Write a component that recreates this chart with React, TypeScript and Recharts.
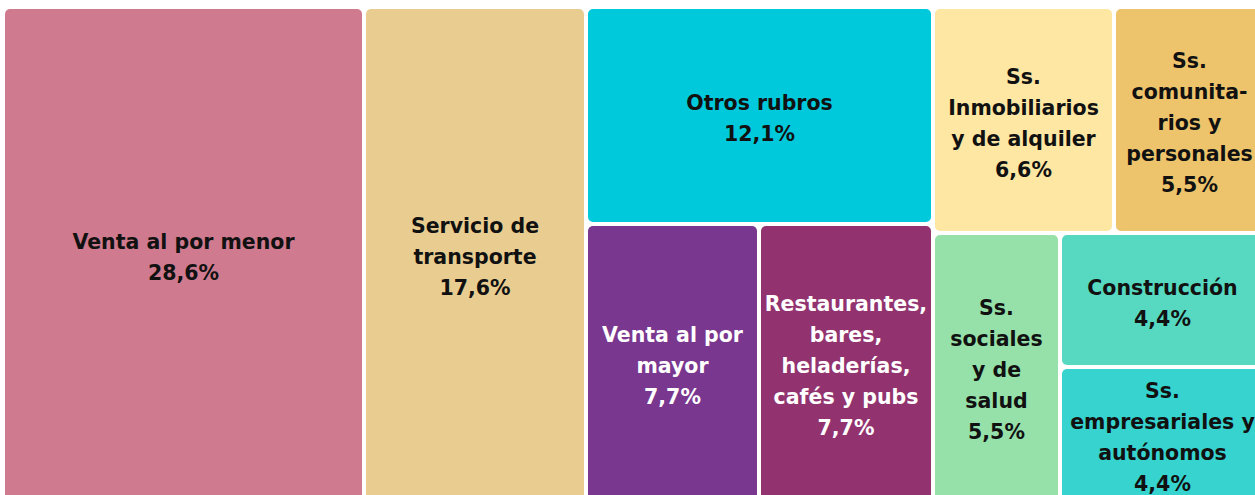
import { Treemap } from 'recharts'

// sectors and their share of the total (%)
const sectors = [
  'Venta al por menor',
  'Servicio de transporte',
  'Otros rubros',
  'Venta al por mayor',
  'Restaurantes, bares, heladerías, cafés y pubs',
  'Ss. Inmobiliarios y de alquiler',
  'Ss. comunitarios y personales',
  'Ss. sociales y de salud',
  'Construcción',
  'Ss. empresariales y autónomos',
]

const shares = [28.6, 17.6, 12.1, 7.7, 7.7, 6.6, 5.5, 5.5, 4.4, 4.4]

// label text as it is broken in the tiles
const labelLines = [
  ['Venta al por menor'],
  ['Servicio de', 'transporte'],
  ['Otros rubros'],
  ['Venta al por', 'mayor'],
  ['Restaurantes,', 'bares,', 'heladerías,', 'cafés y pubs'],
  ['Ss.', 'Inmobiliarios', 'y de alquiler'],
  ['Ss.', 'comunita-', 'rios y', 'personales'],
  ['Ss.', 'sociales', 'y de', 'salud'],
  ['Construcción'],
  ['Ss.', 'empresariales y', 'autónomos'],
]

const palette = [
  '#CF7A8E',
  '#E9CD90',
  '#00C9DC',
  '#7A378F',
  '#923370',
  '#FDE7A3',
  '#EDC46B',
  '#95E1A9',
  '#57D9C1',
  '#36D3CF',
]

const textColors = [
  '#111111',
  '#111111',
  '#111111',
  '#ffffff',
  '#ffffff',
  '#111111',
  '#111111',
  '#111111',
  '#111111',
  '#111111',
]

const leaf = (i: number) => ({ name: sectors[i], value: shares[i], idx: i })

// grouping so the squarify layout gives the same blocks as the original
const treeData = [
  leaf(0),
  leaf(1),
  { name: 'grupo 1', children: [leaf(2), leaf(3), leaf(4)] },
  {
    name: 'grupo 2',
    children: [leaf(5), leaf(6), leaf(7), { name: 'grupo 3', children: [leaf(8), leaf(9)] }],
  },
]

const GAP = 4
const LINE_H = 31

const fmtPct = (v: number) => v.toFixed(1).replace('.', ',') + '%'

const renderTile = (props: any) => {
  const { x, y, width, height, children, idx } = props
  if ((children && children.length) || idx === undefined) return <g />
  const w = width - GAP
  const h = height - GAP
  const lines = [...labelLines[idx], fmtPct(shares[idx])]
  const cx = x + w / 2
  const cy = y + h / 2
  const first = cy - ((lines.length - 1) * LINE_H) / 2 + 10
  return (
    <g>
      <rect x={x} y={y} width={w} height={h} rx={5} ry={5} fill={palette[idx]} />
      <text
        x={cx}
        textAnchor="middle"
        fill={textColors[idx]}
        fontFamily="DejaVu Sans"
        fontWeight={700}
        fontSize={20.5}
      >
        {lines.map((l, k) => (
          <tspan key={k} x={cx} y={first + k * LINE_H}>
            {l}
          </tspan>
        ))}
      </text>
    </g>
  )
}

export default function App() {
  return (
    <div
      style={{
        position: 'fixed',
        left: 0,
        top: 0,
        width: 1255,
        height: 495,
        overflow: 'hidden',
        background: '#ffffff',
      }}
    >
      <div style={{ position: 'absolute', left: 5, top: 9 }}>
        <Treemap
          width={1262}
          height={494}
          data={treeData}
          dataKey="value"
          aspectRatio={1}
          isAnimationActive={false}
          content={renderTile}
        />
      </div>
    </div>
  )
}
